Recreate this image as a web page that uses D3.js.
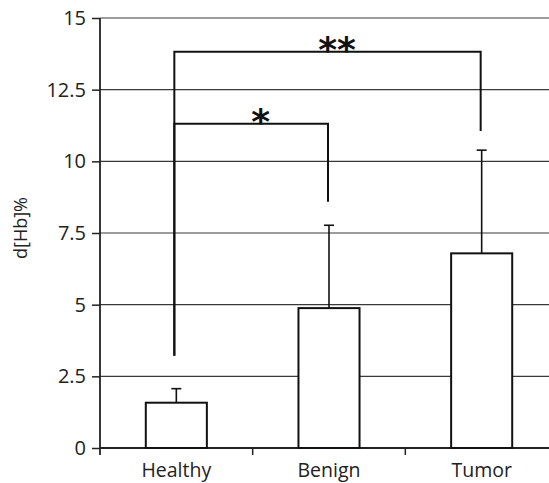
<!DOCTYPE html>
<html>
<head>
<meta charset="utf-8">
<script src="https://cdn.jsdelivr.net/npm/d3@7"></script>
<style>
  body { margin: 0; background: #fff; }
  svg { display: block; font-family: "Open Sans", sans-serif; }
</style>
</head>
<body>
<svg id="chart" width="549" height="483"></svg>
<script>
// data
const categories = ["Healthy", "Benign", "Tumor"];
const means = [1.58, 4.88, 6.79];
const errTops = [2.07, 7.77, 10.39];
const yTicks = [0, 2.5, 5, 7.5, 10, 12.5, 15];
// significance brackets: from, to, level, left leg end, right leg end, label
const bracketFrom = ["Healthy", "Healthy"];
const bracketTo = ["Benign", "Tumor"];
const bracketLevel = [11.31, 13.82];
const bracketLeftEnd = [3.22, 3.22];
const bracketRightEnd = [8.59, 11.06];
const bracketLabel = ["*", "**"];

let svg = d3.select("#chart"),
    width = +svg.attr("width");

let x = d3.scaleBand().domain(categories).range([100, 558]);
let y = d3.scaleLinear().domain([0, 15]).range([448, 18]);
let cx = (c) => x(c) + x.bandwidth() / 2;
let barW = x.bandwidth() * 0.4;

// gridlines
svg.append("g").selectAll("line")
   .data(yTicks.filter((d) => d > 0))
   .enter().append("line")
   .attr("x1", x.range()[0]).attr("x2", width)
   .attr("y1", (d) => y(d)).attr("y2", (d) => y(d))
   .attr("stroke", "#3a3a3a").attr("stroke-width", 1.2);

// y axis
let yAxis = svg.append("g")
   .attr("transform", "translate(" + x.range()[0] + ",0)")
   .call(d3.axisLeft(y).tickValues(yTicks).tickFormat((d) => d)
         .tickSize(8).tickSizeOuter(0).tickPadding(6));
yAxis.select(".domain").attr("stroke", "#222").attr("stroke-width", 1.8)
   .attr("d", "M0," + y(15) + "V" + (y(0) + 7));
yAxis.selectAll(".tick line").attr("stroke", "#222").attr("stroke-width", 1.5);
yAxis.selectAll(".tick text").attr("font-size", 20).attr("fill", "#222")
   .attr("font-family", "Open Sans, sans-serif");

// x axis
svg.append("line")
   .attr("x1", x.range()[0]).attr("x2", width)
   .attr("y1", y(0)).attr("y2", y(0))
   .attr("stroke", "#222").attr("stroke-width", 1.8);
svg.append("g").selectAll("line")
   .data(categories.slice(1))
   .enter().append("line")
   .attr("x1", (d) => x(d)).attr("x2", (d) => x(d))
   .attr("y1", y(0)).attr("y2", y(0) + 7)
   .attr("stroke", "#222").attr("stroke-width", 1.5);
svg.append("g").selectAll("text")
   .data(categories)
   .enter().append("text")
   .attr("x", (d) => cx(d)).attr("y", 477)
   .attr("text-anchor", "middle")
   .attr("font-size", 19.5).attr("fill", "#222")
   .text((d) => d);

// y title
svg.append("text")
   .attr("transform", "translate(27," + 228 + ") rotate(-90)")
   .attr("text-anchor", "middle")
   .attr("font-size", 18).attr("fill", "#222")
   .text("d[Hb]%");

// bars
svg.append("g").selectAll("rect")
   .data(categories)
   .enter().append("rect")
   .attr("x", (d) => cx(d) - barW / 2)
   .attr("width", barW)
   .attr("y", (d, i) => y(means[i]))
   .attr("height", (d, i) => y(0) - y(means[i]))
   .attr("fill", "#fff").attr("stroke", "#111").attr("stroke-width", 2);

// error bars
let err = svg.append("g").selectAll("g")
   .data(categories)
   .enter().append("g");
err.append("line")
   .attr("x1", (d) => cx(d)).attr("x2", (d) => cx(d))
   .attr("y1", (d, i) => y(means[i])).attr("y2", (d, i) => y(errTops[i]))
   .attr("stroke", "#111").attr("stroke-width", 1.6);
err.append("line")
   .attr("x1", (d) => cx(d) - 5).attr("x2", (d) => cx(d) + 5)
   .attr("y1", (d, i) => y(errTops[i])).attr("y2", (d, i) => y(errTops[i]))
   .attr("stroke", "#111").attr("stroke-width", 1.6);

// significance brackets
let br = svg.append("g").selectAll("g")
   .data(bracketLabel)
   .enter().append("g");
br.append("path")
   .attr("d", (d, i) => {
       let x1 = cx(bracketFrom[i]) - 2, x2 = cx(bracketTo[i]) - 1;
       return "M" + x1 + "," + y(bracketLeftEnd[i]) + "V" + y(bracketLevel[i]) +
              "H" + x2 + "V" + y(bracketRightEnd[i]);
   })
   .attr("fill", "none").attr("stroke", "#111").attr("stroke-width", 2);
br.append("text")
   .attr("x", (d, i) => (cx(bracketFrom[i]) + cx(bracketTo[i])) / 2 + 8)
   .attr("y", (d, i) => y(bracketLevel[i]) + 10)
   .attr("text-anchor", "middle")
   .attr("font-family", "DejaVu Sans, sans-serif")
   .attr("font-weight", "bold")
   .attr("font-size", 36).attr("fill", "#111")
   .text((d) => d);
</script>
</body>
</html>
